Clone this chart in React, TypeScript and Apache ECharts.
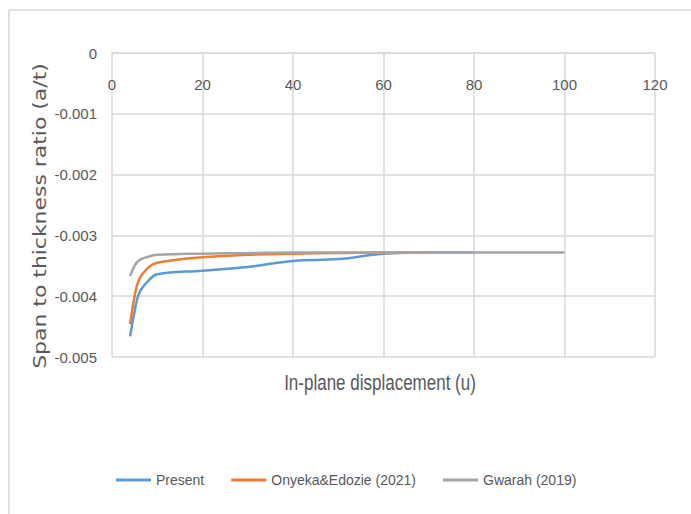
import React, { useEffect, useRef } from "react";
import * as echarts from "echarts";

const xPresent = [4, 5, 6, 8, 10, 20, 30, 40, 50, 60, 70, 80];
const yPresent = [-0.00466, -0.00425, -0.00395, -0.00375, -0.00364, -0.00358, -0.00352, -0.00342, -0.00339, -0.0033, -0.00328, -0.00328];

const xOnyeka = [4, 5, 6, 8, 10, 20, 30, 40, 50, 60, 70];
const yOnyeka = [-0.00446, -0.004, -0.00372, -0.00353, -0.00345, -0.00336, -0.00332, -0.0033, -0.00329, -0.00328, -0.00328];

const xGwarah = [4, 5, 6, 8, 10, 20, 30, 40, 50, 60, 70, 80, 90, 100];
const yGwarah = [-0.00367, -0.0035, -0.00341, -0.00335, -0.00332, -0.0033, -0.00329, -0.00328, -0.00328, -0.00328, -0.00328, -0.00328, -0.00328, -0.00328];

const seriesNames = ["Present", "Onyeka&Edozie (2021)", "Gwarah (2019)"];
const seriesColors = ["#5B9BD5", "#ED7D31", "#A5A5A5"];
const xTicks = { min: 0, max: 120, interval: 20 };
const yTicks = { min: -0.005, max: 0, interval: 0.001 };

const FONT = '"Liberation Sans", Arial, sans-serif';
const TXT = "#595959";
const GRID = "#d9d9d9";

const pairs = (xs: number[], ys: number[]) => xs.map((x, i) => [x, ys[i]]);

export default function App() {
  const ref = useRef<HTMLDivElement>(null);
  useEffect(() => {
    if (!ref.current) return;
    const chart = echarts.init(ref.current, undefined, { renderer: "svg" });
    const data = [pairs(xPresent, yPresent), pairs(xOnyeka, yOnyeka), pairs(xGwarah, yGwarah)];
    chart.setOption({
      animation: false,
      backgroundColor: "#ffffff",
      grid: { left: 112, right: 36, top: 53, bottom: 157, containLabel: false },
      legend: {
        data: seriesNames,
        left: 111,
        top: 468,
        icon: "rect",
        itemWidth: 35,
        itemHeight: 3,
        itemGap: 27,
        textStyle: { color: TXT, fontFamily: FONT, fontSize: 14 },
      },
      xAxis: {
        type: "value",
        position: "top",
        min: xTicks.min,
        max: xTicks.max,
        interval: xTicks.interval,
        axisLine: { show: true, lineStyle: { color: GRID, width: 1.5 } },
        axisTick: { show: false },
        axisLabel: { inside: true, margin: 24, color: TXT, fontFamily: FONT, fontSize: 15 },
        splitLine: { show: true, lineStyle: { color: GRID, width: 1.5 } },
      },
      yAxis: {
        type: "value",
        min: yTicks.min,
        max: yTicks.max,
        interval: yTicks.interval,
        axisLine: { show: false },
        axisTick: { show: false },
        axisLabel: {
          margin: 15,
          color: TXT,
          fontFamily: FONT,
          fontSize: 15,
          formatter: (v: number) => (Math.abs(v) < 1e-12 ? "0" : v.toFixed(3)),
        },
        splitLine: { show: true, lineStyle: { color: GRID, width: 1.5 } },
      },
      series: seriesNames.map((name, i) => ({
        name,
        type: "line",
        data: data[i],
        smooth: 0.4,
        showSymbol: false,
        symbol: "none",
        lineStyle: { color: seriesColors[i], width: 2.5 },
        itemStyle: { color: seriesColors[i] },
      })),
      graphic: [
        { type: "line", shape: { x1: 9, y1: 10, x2: 691, y2: 10 }, style: { stroke: GRID, lineWidth: 1.5 } },
        { type: "line", shape: { x1: 9, y1: 10, x2: 9, y2: 514 }, style: { stroke: GRID, lineWidth: 1.5 } },
        {
          type: "text",
          x: 380,
          y: 383,
          scaleY: 1.25,
          style: { text: "In-plane displacement (u)", fill: TXT, font: `17px ${FONT}`, textAlign: "center", textVerticalAlign: "middle" },
        },
        {
          type: "text",
          x: 40,
          y: 216,
          rotation: Math.PI / 2,
          scaleX: 1.29,
          style: { text: "Span to thickness ratio (a/t)", fill: TXT, font: `17px "DejaVu Sans", Verdana, sans-serif`, textAlign: "center", textVerticalAlign: "middle" },
        },
      ],
    });
    return () => chart.dispose();
  }, []);
  return <div ref={ref} style={{ position: "fixed", left: 0, top: 0, width: 691, height: 514 }} />;
}
